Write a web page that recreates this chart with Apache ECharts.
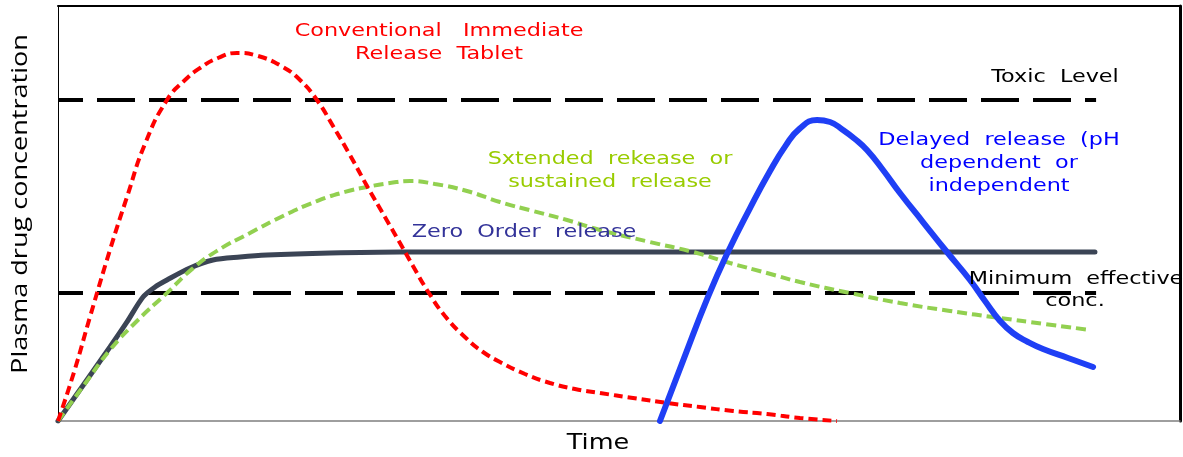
<!DOCTYPE html>
<html>
<head>
<meta charset="utf-8">
<title>Plasma drug concentration</title>
<script src="https://cdn.jsdelivr.net/npm/echarts@6.0.0/dist/echarts.min.js"></script>
<style>
html, body { margin: 0; padding: 0; background: #fff; }
#main { width: 1183px; height: 457px; }
</style>
</head>
<body>
<div id="main"></div>
<script>
// time on x, concentration on y (both arbitrary 0-100 units)
var conventional = [[0,0],[1.43,11.81],[2.85,25.06],[4.63,41.2],[6.15,53.98],[7.75,66.75],[9.71,77.35],[11.32,82.17],[12.66,85.06],[14.26,87.47],[15.95,88.67],[17.83,87.95],[20.05,85.3],[21.57,82.17],[23.08,77.35],[24.51,71.08],[26.02,64.1],[27.54,56.63],[29.14,49.16],[30.48,42.89],[31.64,37.35],[32.89,31.57],[34.49,25.3],[36.45,19.76],[37.88,16.63],[39.39,14.22],[41.62,11.33],[43.85,9.16],[46.08,7.71],[48.31,6.75],[51.25,5.54],[54.28,4.34],[57.22,3.37],[60.16,2.41],[63.19,1.69],[66.13,0.72],[69.43,0]];
var sustained = [[0,0],[2.32,8.67],[4.63,17.11],[7.13,24.34],[9.71,30.84],[11.94,36.6],[14.17,41.0],[17.11,45.3],[20.05,49.4],[23.08,53.0],[25.58,55.2],[27.54,56.39],[29.59,57.35],[31.37,57.83],[33.6,57.11],[36.45,55.42],[39.39,52.77],[42.34,50.6],[45.37,48.43],[48.31,46.02],[52.76,43.13],[56.6,40.72],[59.89,38.07],[63.19,35.66],[66.13,33.49],[70.59,30.84],[75.04,28.43],[79.5,26.51],[83.96,24.82],[87.97,23.37],[91.98,21.93]];
var zeroOrder = [[0,0],[2.32,8.92],[4.63,17.83],[6.15,23.86],[7.58,29.88],[8.65,32.29],[9.71,33.98],[11.76,36.87],[13.81,38.8],[16.22,39.52],[18.63,40],[24.24,40.48],[30.48,40.72],[92.42,40.72]];
var delayed = [[53.65,0],[55.79,15.1],[57.93,29.9],[59.71,40.72],[61.68,51.3],[63.41,60.0],[64.84,66.3],[66.08,70.4],[67.65,72.53],[68.81,72.05],[69.96,70.12],[71.03,67.95],[72.1,65.3],[73.53,60.48],[75.04,54.94],[77.09,47.95],[79.23,40.72],[81.28,33.98],[82.62,28.92],[83.96,24.1],[85.11,21.2],[86.45,19.04],[87.79,17.35],[90.02,15.18],[92.25,13.01]];
var toxicLevel = [[0,77.35],[92.52,77.35]];
var minEffective = [[0,30.84],[92.52,30.84]];

var myChart = echarts.init(document.getElementById('main'));

function note(text, x, y, color) {
  return {
    type: 'text', x: x, y: y, z: 100, scaleX: 1.24,
    style: {
      text: text, fill: color, font: '18px "DejaVu Sans"',
      align: 'center', verticalAlign: 'middle',
      textAlign: 'center', textVerticalAlign: 'middle'
    }
  };
}

function hidden(extra) {
  var a = {
    type: 'value', min: 0, max: 100,
    axisTick: { show: false }, axisLabel: { show: false }, splitLine: { show: false }
  };
  for (var k in extra) a[k] = extra[k];
  return a;
}

function curve(data, color, width, dash, smooth) {
  return {
    type: 'line', data: data, symbol: 'none', smooth: smooth,
    lineStyle: { color: color, width: width, type: dash, cap: dash === 'solid' ? 'round' : 'butt' }
  };
}

var option = {
  animation: false,
  backgroundColor: '#fff',
  grid: { left: 58, right: 3, top: 6, bottom: 36, outerBoundsMode: 'none' },
  xAxis: [
    hidden({ axisLine: { show: true, onZero: false, lineStyle: { color: '#7f7f7f', width: 1.5 } } }),
    hidden({ position: 'top', axisLine: { show: true, onZero: false, lineStyle: { color: '#000', width: 2 } } })
  ],
  yAxis: [
    hidden({ axisLine: { show: true, onZero: false, lineStyle: { color: '#000', width: 1 } } }),
    hidden({ position: 'right', axisLine: { show: true, onZero: false, lineStyle: { color: '#000', width: 3 } } })
  ],
  series: [
    curve(toxicLevel, '#000', 4, [38, 14], false),
    curve(minEffective, '#000', 4, [38, 14], false),
    curve(zeroOrder, '#3b4455', 5, 'solid', 0.3),
    curve(sustained, '#92d050', 4, [10, 5], 0.5),
    curve(conventional, '#ff0000', 4, [9, 5], 0.5),
    curve(delayed, '#1f3ff5', 6, 'solid', 0.5)
  ],
  graphic: [
    note('Conventional   Immediate', 439, 31, '#ff0000'),
    note('Release  Tablet', 439, 54, '#ff0000'),
    note('Toxic  Level', 1055, 77, '#000'),
    note('Sxtended  rekease  or', 610, 159, '#99cc00'),
    note('sustained  release', 610, 182, '#99cc00'),
    note('Zero  Order  release', 524, 232, '#333399'),
    note('Delayed  release  (pH', 999, 140, '#0000ff'),
    note('dependent  or', 999, 163, '#0000ff'),
    note('independent', 999, 186, '#0000ff'),
    note('Minimum  effective', 1076, 279, '#000'),
    note('conc.', 1075, 301, '#000'),
    {
      type: 'text', x: 598, y: 443, z: 100, scaleX: 1.16,
      style: { text: 'Time', fill: '#000', font: '22px "DejaVu Sans"', align: 'center', verticalAlign: 'middle', textAlign: 'center', textVerticalAlign: 'middle' }
    },
    {
      type: 'text', x: 21, y: 204, z: 100, rotation: Math.PI / 2, scaleX: 1.23,
      style: { text: 'Plasma drug concentration', fill: '#000', font: '22px "Open Sans"', align: 'center', verticalAlign: 'middle', textAlign: 'center', textVerticalAlign: 'middle' }
    }
  ]
};

// dashed level lines start mid-dash at the axis
option.series[0].lineStyle.dashOffset = 13;
option.series[1].lineStyle.dashOffset = 13;

myChart.setOption(option);
window.addEventListener('resize', function () {
  myChart.resize();
});
</script>
</body>
</html>
